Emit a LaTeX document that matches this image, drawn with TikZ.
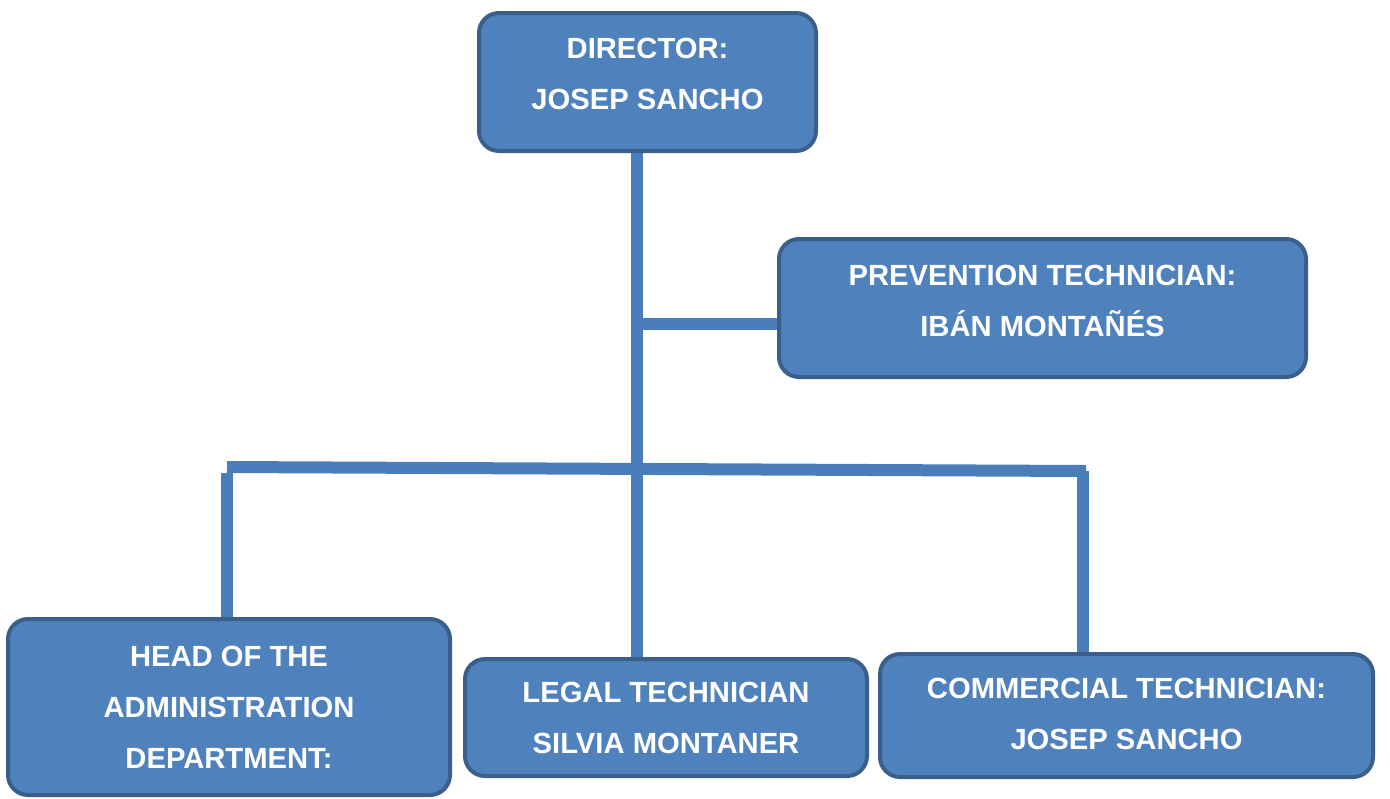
\documentclass[tikz,border=0pt]{standalone}
\usepackage{fontspec}
\setmainfont{Liberation Sans}
\usetikzlibrary{backgrounds}
\definecolor{boxfill}{HTML}{4F81BD}
\definecolor{boxline}{HTML}{3A5F8B}
\definecolor{connc}{HTML}{4A7EBB}
\begin{document}
\begin{tikzpicture}[x=0.5pt,y=-0.5pt,
  box/.style={draw=boxline, fill=boxfill, line width=2pt, rounded corners=10pt, inner sep=0pt, outer sep=0pt},
  txt/.style={text=white, font=\bfseries\fontsize{14.6pt}{25.5pt}\selectfont, align=center, inner sep=0pt},
  conn/.style={draw=connc, line width=6pt, line cap=butt}]
\useasboundingbox (0,0) rectangle (1390,798);
% boxes
\node[box, minimum width=168.5pt, minimum height=69pt] (dir) at (647.5,82) {};
\node[box, minimum width=263.5pt, minimum height=69pt] (prev) at (1042.5,308) {};
\node[box, minimum width=221pt, minimum height=88pt] (head) at (229,707) {};
\node[box, minimum width=201pt, minimum height=58.5pt] (leg) at (666,717.5) {};
\node[box, minimum width=246.5pt, minimum height=61.5pt] (com) at (1126.5,715.5) {};
% texts
\node[txt] (dirT) at (647.5,73.5) {DIRECTOR:\\JOSEP SANCHO};
\node[txt] (prevT) at (1042.5,300.5) {PREVENTION TECHNICIAN:\\IBÁN MONTAÑÉS};
\node[txt] (headT) at (229,707.5) {HEAD OF THE\\ADMINISTRATION\\DEPARTMENT:};
\node[txt] (legT) at (666,717.5) {LEGAL TECHNICIAN\\SILVIA MONTANER};
\node[txt] (comT) at (1126.5,714) {COMMERCIAL TECHNICIAN:\\JOSEP SANCHO};
% connectors
\coordinate (tr) at (637,0);
\coordinate (br) at (0,324);
\coordinate (busL) at (227,467);
\coordinate (busR) at (1086,471);
\coordinate (hl) at (226.5,473);
\coordinate (cr) at (1083,471);
\begin{pgfonlayer}{background}
\draw[conn] (tr |- dir.south) -- (tr |- leg.north);
\draw[conn] (tr |- br) -- (prev.west |- br);
\draw[conn] (busL) -- (busR);
\draw[conn] (hl) -- (hl |- head.north);
\draw[conn] (cr) -- (cr |- com.north);
\end{pgfonlayer}
\end{tikzpicture}
\end{document}
